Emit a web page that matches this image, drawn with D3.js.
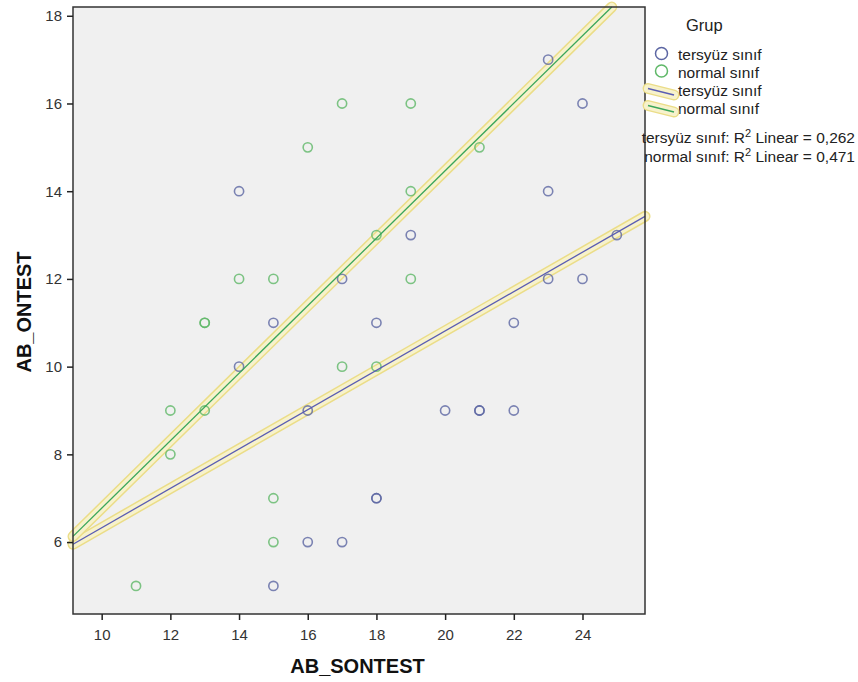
<!DOCTYPE html>
<html><head><meta charset="utf-8">
<script src="https://cdn.jsdelivr.net/npm/d3@7"></script>
<style>
body{margin:0;background:#fff;}
svg{display:block;font-family:Arial,"Liberation Sans",sans-serif;}
</style>
</head><body>
<svg id="c" width="858" height="682"></svg>
<script>
// ---- data ----
const groups = ["tersyüz sınıf", "normal sınıf"];
const tersyuzX = [23,24,14,23,19,25,17,23,24,15,18,22,14,16,20,21,21,22,18,18,16,17,15];
const tersyuzY = [17,16,14,14,13,13,12,12,12,11,11,11,10, 9, 9, 9, 9, 9, 7, 7, 6, 6, 5];
const normalX  = [17,19,16,21,19,18,14,15,19,13,13,12,13,17,18,12,15,15,11];
const normalY  = [16,16,15,15,14,13,12,12,12,11,11, 9, 9,10,10, 8, 7, 6, 5];
const r2Values = ["0,262", "0,471"];
const xTicks = [10,12,14,16,18,20,22,24];
const yTicks = [6,8,10,12,14,16,18];
const xTitle = "AB_SONTEST";
const yTitle = "AB_ONTEST";
const legendTitle = "Grup";

// ---- layout ----
const L = 73, R = 645, T = 7, B = 614;
const markerColors = ["#5c66a3", "#5fb868"];
const lineColors = ["#5a5db3", "#3aa65a"];

const svg = d3.select("#c");
const x = d3.scaleLinear().domain([9.165, 25.82]).range([L, R]);
const y = d3.scaleLinear().domain([4.36, 18.2]).range([B, T]);

svg.append("rect").attr("x", L).attr("y", T).attr("width", R - L).attr("height", B - T)
  .attr("fill", "#f0f0f0");

const series = [
  tersyuzX.map((v, i) => ({x: v, y: tersyuzY[i]})),
  normalX.map((v, i) => ({x: v, y: normalY[i]}))
];

// least squares fit from the data
function fit(pts) {
  const mx = d3.mean(pts, d => d.x), my = d3.mean(pts, d => d.y);
  let sxy = 0, sxx = 0;
  pts.forEach(d => { sxy += (d.x - mx) * (d.y - my); sxx += (d.x - mx) ** 2; });
  const b = sxy / sxx, a = my - b * mx;
  const [x0, x1d] = x.domain();
  const ymax = y.domain()[1];
  const x1 = Math.min(x1d, (ymax - a) / b);
  return [{x: x0, y: a + b * x0}, {x: x1, y: a + b * x1}];
}
const fits = series.map(fit);
const lineGen = d3.line().x(d => x(d.x)).y(d => y(d.y));

// halos
const halo = svg.append("g");
fits.forEach(f => {
  halo.append("path").attr("d", lineGen(f)).attr("fill", "none")
    .attr("stroke", "#ebdd88").attr("stroke-width", 11).attr("stroke-linecap", "round");
  halo.append("path").attr("d", lineGen(f)).attr("fill", "none")
    .attr("stroke", "#f7f2cc").attr("stroke-width", 8).attr("stroke-linecap", "round");
});

// points
series.forEach((pts, gi) => {
  svg.append("g").selectAll("circle").data(pts).join("circle")
    .attr("cx", d => x(d.x)).attr("cy", d => y(d.y)).attr("r", 4.6)
    .attr("fill", "none").attr("stroke", markerColors[gi])
    .attr("stroke-width", 1.6).attr("stroke-opacity", 0.8);
});

// fit lines
fits.forEach((f, gi) => {
  svg.append("path").attr("d", lineGen(f)).attr("fill", "none")
    .attr("stroke", lineColors[gi]).attr("stroke-width", 1.3);
});

// border
svg.append("rect").attr("x", L).attr("y", T).attr("width", R - L).attr("height", B - T)
  .attr("fill", "none").attr("stroke", "#333").attr("stroke-width", 1.5);

// axes
const xAxis = svg.append("g").attr("transform", `translate(0,${B})`)
  .call(d3.axisBottom(x).tickValues(xTicks).tickSize(6).tickPadding(9));
const yAxis = svg.append("g").attr("transform", `translate(${L},0)`)
  .call(d3.axisLeft(y).tickValues(yTicks).tickSize(6).tickPadding(5));
[xAxis, yAxis].forEach(g => {
  g.select(".domain").remove();
  g.selectAll(".tick line").attr("stroke", "#222").attr("stroke-width", 1.5);
  g.selectAll(".tick text").attr("fill", "#333").style("font-size", "15px")
    .style("font-family", "Arial, 'Liberation Sans', sans-serif");
});

// titles
svg.append("text").attr("x", 357.5).attr("y", 673).attr("text-anchor", "middle")
  .style("font-size", "20px").style("font-weight", "bold").attr("fill", "#111").text(xTitle);
svg.append("text").attr("transform", "translate(31,312) rotate(-90)").attr("text-anchor", "middle")
  .style("font-size", "20px").style("font-weight", "bold").attr("fill", "#111").text(yTitle);

// legend
const lg = svg.append("g").attr("fill", "#222").style("font-size", "15.5px");
lg.append("text").attr("x", 686).attr("y", 31).style("font-size", "16.5px").text(legendTitle);
const circleY = [53.5, 71];
const textY = [60, 78, 96, 114];
groups.forEach((g, i) => {
  lg.append("circle").attr("cx", 661.5).attr("cy", circleY[i]).attr("r", 6)
    .attr("fill", "none").attr("stroke", markerColors[i]).attr("stroke-width", 1.5);
  lg.append("text").attr("x", 678).attr("y", textY[i]).text(g);
  lg.append("text").attr("x", 678).attr("y", textY[i + 2]).text(g);
});
const legLines = [[[648, 88.5], [674, 95]], [[648, 105.5], [674, 112]]];
legLines.forEach((pts, i) => {
  const d = d3.line()(pts);
  lg.append("path").attr("d", d).attr("fill", "none").attr("stroke", "#ebdd88")
    .attr("stroke-width", 11).attr("stroke-linecap", "round");
  lg.append("path").attr("d", d).attr("fill", "none").attr("stroke", "#f7f2cc")
    .attr("stroke-width", 8).attr("stroke-linecap", "round");
  lg.append("path").attr("d", d).attr("fill", "none").attr("stroke", lineColors[i])
    .attr("stroke-width", 1.3);
});
const r2Y = [143, 162];
groups.forEach((g, i) => {
  const t = lg.append("text").attr("x", 855).attr("y", r2Y[i]).attr("text-anchor", "end");
  t.append("tspan").text(g + ": R");
  t.append("tspan").attr("dy", -6).style("font-size", "11px").text("2");
  t.append("tspan").attr("dy", 6).text(" Linear = " + r2Values[i]);
});
</script>
</body></html>
